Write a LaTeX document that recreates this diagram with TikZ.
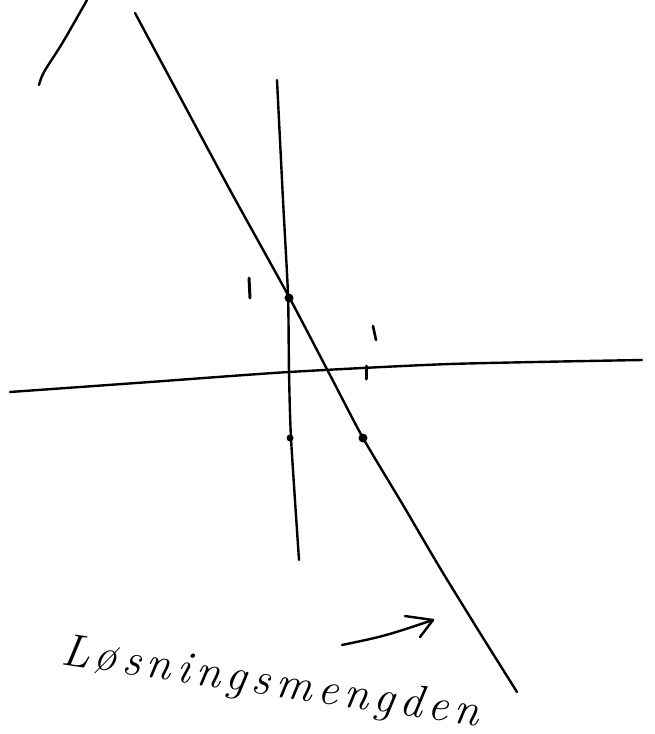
\documentclass[tikz,border=0pt]{standalone}
\usepackage{fontspec}
\usetikzlibrary{arrows.meta}
\newfontfamily\handfont[LetterSpace=12]{Latin Modern Roman}
\begin{document}
\begin{tikzpicture}[x=1pt,y=-1pt,
  pen/.style={line width=2.4pt,line cap=round,line join=round,black},
  dotmark/.style={circle,fill=black,inner sep=0pt,minimum size=9pt},
  lbl/.style={font=\handfont\itshape\fontsize{46}{46}\selectfont,inner sep=0pt}]
\useasboundingbox (0,0) rectangle (655,734);
% top-left stroke
\draw[pen] plot[smooth,tension=0.5] coordinates {(87,0) (63,42) (44,72) (39,85)};
% long diagonal line
\draw[pen] plot[smooth,tension=0.4] coordinates {(135,13) (172,82) (230,190) (288,295) (330,375) (363,438) (403,505) (440,568) (480,633) (517,692)};
% vertical axis
\draw[pen] plot[smooth,tension=0.4] coordinates {(277,80) (283,200) (288,295) (289,372) (291,438) (299,560)};
% horizontal axis
\draw[pen] plot[smooth,tension=0.4] coordinates {(10,392) (150,382) (289,372) (450,364) (642,360)};
% ticks
\draw[pen,line width=3pt] (249,278) -- (250,298);
\draw[pen,line width=2.6pt] (373,326) -- (376,340);
\draw[pen,line width=3pt] (366,366) -- (366,379);
% dots
\node[dotmark] (p1) at (289,298) {};
\node[dotmark,minimum size=7pt] (p2) at (290,438) {};
\node[dotmark] (p3) at (363,438) {};
% arrow
\coordinate (a0) at (342,645);
\coordinate (a1) at (433,620);
\draw[pen] (a0) .. controls (385,636) .. (a1);
\draw[pen] (405,616) -- (a1) -- (420,637);
% label
\node[lbl,rotate=-8.5,anchor=base west] (txt) at (60,664) {L\kern5ptøsningsmengden};
\end{tikzpicture}
\end{document}
